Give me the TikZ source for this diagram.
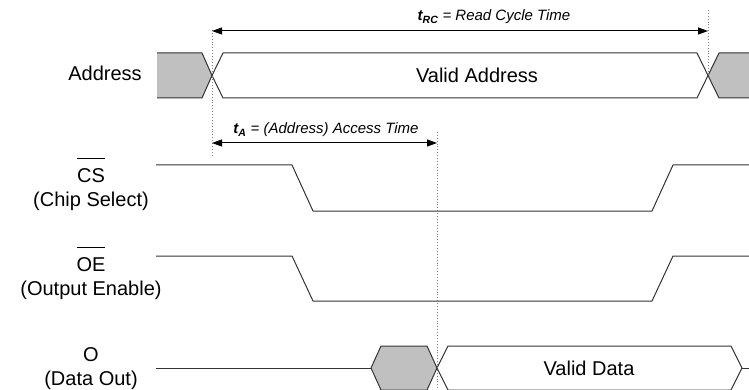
\documentclass[tikz,border=0pt]{standalone}
\usepackage{fontspec}
\setmainfont{Liberation Sans}
\usepackage{tikz}
\usetikzlibrary{arrows.meta}
\definecolor{busgray}{HTML}{C0C0C0}
\definecolor{wire}{HTML}{333333}
\tikzset{
  sig/.style={draw=wire, line width=1pt, line join=round},
  guide/.style={draw=gray, dotted, line width=0.9pt},
  dimline/.style={draw=black, line width=1pt, <->},
  siglabel/.style={font=\fontsize{20}{24}\selectfont, align=center, inner sep=0pt},
  dimlabel/.style={font=\fontsize{15}{18}\selectfont\itshape, inner sep=0pt}
}
\newcommand{\sigbar}[1]{\sbox0{#1}\rlap{\smash{\rule[1.2em]{\wd0}{1pt}}}\usebox0}

\begin{document}
\begin{tikzpicture}[x=1pt, y=-1pt, >={Triangle[length=10pt,width=7pt]}]
\useasboundingbox (0,0) rectangle (749,390);

\node[siglabel] (Addr) at (105,73) {Address};
\node[siglabel] (CS) at (91,190) {\sigbar{CS}\\(Chip Select)};
\node[siglabel] (OE) at (91,279) {\sigbar{OE}\\(Output Enable)};
\node[siglabel] (Dout) at (91,369) {O\\(Data Out)};

\fill[busgray] (157,53) -- (202,53) -- (212,75.5) -- (202,98) -- (157,98) -- cycle;
\draw[sig] (157,53) -- (202,53) -- (212,75.5) -- (202,98) -- (157,98);
\draw[sig] (212,75.5) -- (223,53) -- (697,53) -- (708,75.5) -- (697,98) -- (223,98) -- cycle;
\fill[busgray] (708,75.5) -- (719,53) -- (749,53) -- (749,98) -- (719,98) -- cycle;
\draw[sig] (749,53) -- (719,53) -- (708,75.5) -- (719,98) -- (749,98);
\node[siglabel] (VA) at (477,75.5) {Valid Address};

\draw[sig] (156,165) -- (292,165) -- (313,211) -- (652,211) -- (673,165) -- (749,165);
\draw[sig] (156,256) -- (292,256) -- (313,301) -- (652,301) -- (673,256) -- (749,256);

\draw[sig] (156,368) -- (371,368);
\fill[busgray] (371,368) -- (381,346) -- (427,346) -- (437,368) -- (427,390) -- (381,390) -- cycle;
\draw[sig] (371,368) -- (381,346) -- (427,346) -- (437,368) -- (427,390) -- (381,390) -- cycle;
\draw[sig] (437,368) -- (448,346) -- (731,346) -- (742,368) -- (731,390) -- (448,390) -- cycle;
\draw[sig] (742,368) -- (749,368);
\node[siglabel] (VD) at (589,368) {Valid Data};

\coordinate (RCa) at (212,31);
\coordinate (RCb) at (708,31);
\coordinate (Aa) at (212,143);
\coordinate (Ab) at (437,143);

\draw[guide] (212,30) -- (212,156);
\draw[guide] (708,10) -- (708,75);
\draw[guide] (437,132) -- (437,390);

\draw[dimline] (RCa) -- (RCb);
\draw[dimline] (Aa) -- (Ab);
\node[dimlabel] (tRC) at (494,17) {\textbf{t\textsubscript{RC}} = Read Cycle Time};
\node[dimlabel] (tA) at (326,130) {\textbf{t\textsubscript{A}} = (Address) Access Time};

\end{tikzpicture}
\end{document}
